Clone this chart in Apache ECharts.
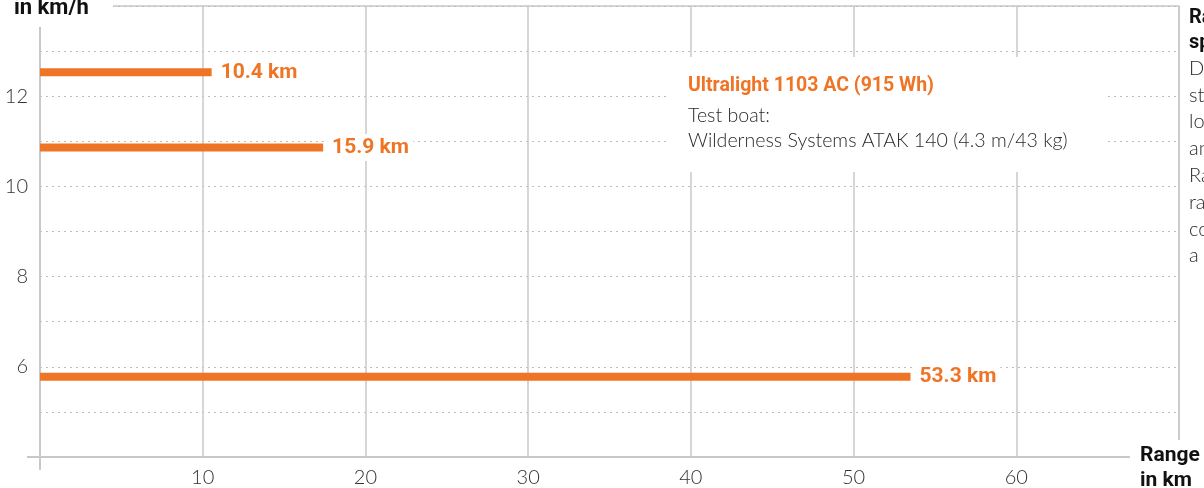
<!DOCTYPE html>
<html>
<head>
<meta charset="utf-8">
<script src="https://cdn.jsdelivr.net/npm/echarts@6/dist/echarts.min.js"></script>
<style>
html, body { margin: 0; padding: 0; background: #fff; }
#chart { width: 1204px; height: 488px; }
</style>
</head>
<body>
<div id="chart"></div>
<script>
// data
var speeds = [12.53, 10.86, 5.78];          // km/h
var ranges = [10.55, 17.4, 53.5];           // km, length of the drawn bars
var rangeLabels = ['10.4 km', '15.9 km', '53.3 km'];
var xTickLabels = [10, 20, 30, 40, 50, 60];
var yTickLabels = [6, 8, 10, 12];
var boxTitle = 'Ultralight 1103 AC (915 Wh)';
var boxLines = ['Test boat:', 'Wilderness Systems ATAK 140 (4.3 m/43 kg)'];
var sideTitle = ['Range and', 'speed'];
var sideText = ['Drive at', 'steady', 'lower speed', 'and the', 'Range grows', 'rapidly', 'compared to', 'a fast run'];

var orange = '#f07425';
var grey = '#c8c8c8';
var boldFont = 'Roboto';
var lightFont = 'Lato';

var myChart = echarts.init(document.getElementById('chart'));

var series = speeds.map(function (s, i) {
    return {
        type: 'line',
        data: [[0, s], [ranges[i], s]],
        symbol: 'none',
        silent: true,
        z: 3,
        lineStyle: { color: orange, width: 8, cap: 'butt' },
        endLabel: {
            show: true,
            formatter: rangeLabels[i],
            color: orange,
            fontFamily: boldFont,
            fontWeight: 'bold',
            fontSize: 21,
            distance: 5,
            backgroundColor: '#fff',
            padding: [3, 4]
        }
    };
});

option = {
    animation: false,
    grid: {
        left: 40,
        right: 25,
        top: 6,
        bottom: 28,
        show: true,
        borderColor: grey,
        borderWidth: 1.5
    },
    xAxis: {
        type: 'value',
        min: 0,
        max: 70,
        interval: 10,
        axisLine: { show: true, lineStyle: { color: grey, width: 2 } },
        axisTick: { show: false },
        axisLabel: {
            margin: 11,
            fontFamily: lightFont,
            fontWeight: 300,
            fontSize: 20,
            color: '#333',
            formatter: function (v) { return xTickLabels.indexOf(v) >= 0 ? String(v) : ''; }
        },
        splitLine: { show: true, lineStyle: { color: grey, width: 1.5 } }
    },
    yAxis: {
        type: 'value',
        min: 4,
        max: 14,
        interval: 1,
        axisLine: { show: true, lineStyle: { color: grey, width: 2 } },
        axisTick: { show: false },
        axisLabel: {
            margin: 12,
            fontFamily: lightFont,
            fontWeight: 300,
            fontSize: 20,
            color: '#333',
            formatter: function (v) { return yTickLabels.indexOf(v) >= 0 ? String(v) : ''; }
        },
        splitLine: { show: true, lineStyle: { color: '#bdbdbd', width: 1, type: [2, 4] } }
    },
    series: series
};
myChart.setOption(option);

// axis extensions and annotations
var origin = myChart.convertToPixel({ gridIndex: 0 }, [0, 4]);
var graphics = [
    { type: 'line', z: 4, shape: { x1: origin[0], y1: origin[1], x2: origin[0], y2: origin[1] + 13 },
      style: { stroke: grey, lineWidth: 2 } },
    { type: 'line', z: 4, shape: { x1: origin[0] - 13, y1: origin[1], x2: origin[0], y2: origin[1] },
      style: { stroke: grey, lineWidth: 2 } },
    // white box behind the legend text
    { type: 'rect', z: 1, shape: { x: 670, y: 57, width: 438, height: 115 }, style: { fill: '#fff' } },
    { type: 'text', z: 5, style: { x: 688, y: 86, text: boxTitle, fill: orange,
        font: 'bold 19.5px ' + boldFont, textVerticalAlign: 'middle' } },
    { type: 'text', z: 5, style: { x: 688, y: 103, text: boxLines.join('\n'), fill: '#2a2a2a',
        font: '300 19.6px ' + lightFont, lineHeight: 25, textVerticalAlign: 'top' } },
    // y axis title
    { type: 'rect', z: 4, shape: { x: 0, y: 0, width: 113, height: 27 }, style: { fill: '#fff' } },
    { type: 'text', z: 5, style: { x: 14, y: 8, text: 'in km/h', fill: '#111',
        font: 'bold 22px ' + boldFont, textVerticalAlign: 'middle' } },
    // x axis title
    { type: 'rect', z: 4, shape: { x: 1130, y: 440, width: 74, height: 48 }, style: { fill: '#fff' } },
    { type: 'text', z: 5, style: { x: 1140, y: 443, text: 'Range\nin km', fill: '#111',
        font: 'bold 21px ' + boldFont, lineHeight: 25, textVerticalAlign: 'top' } },
    // cut-off side note
    { type: 'text', z: 5, style: { x: 1189, y: 5, text: sideTitle.join('\n'), fill: '#111',
        font: 'bold 20px ' + boldFont, lineHeight: 25, textVerticalAlign: 'top' } },
    { type: 'text', z: 5, style: { x: 1189, y: 55, text: sideText.join('\n'), fill: '#2a2a2a',
        font: '300 20px ' + lightFont, lineHeight: 26.8, textVerticalAlign: 'top' } }
];
myChart.setOption({ graphic: graphics });

window.addEventListener('resize', function () {
    myChart.resize();
});
</script>
</body>
</html>
